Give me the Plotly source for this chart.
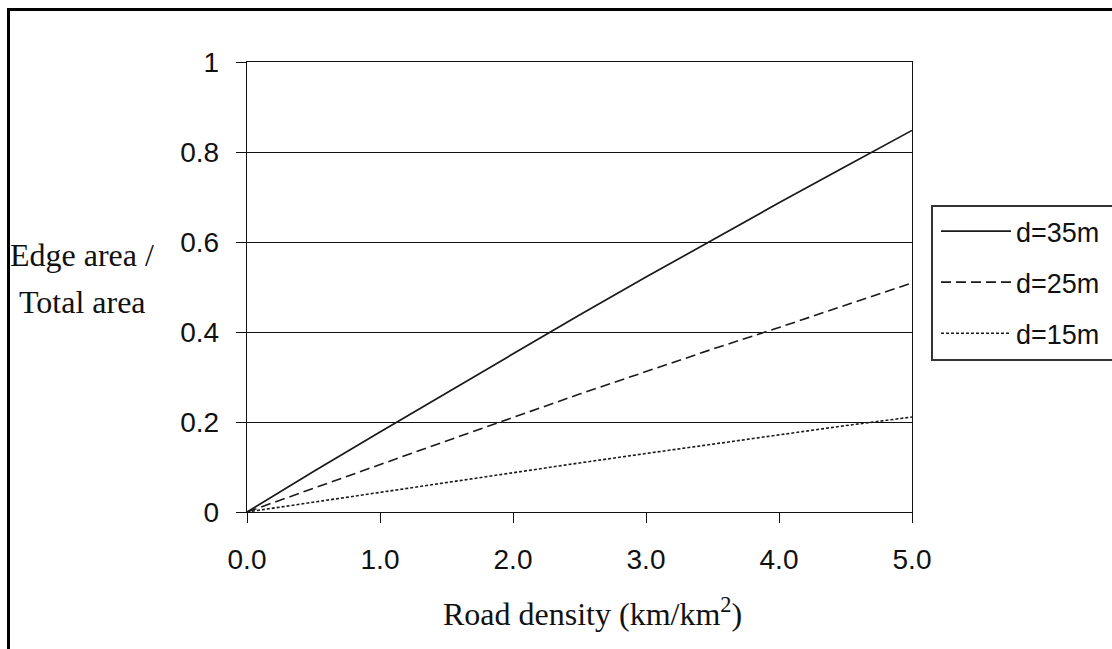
import plotly.graph_objects as go

# Data
road_density = [0.0, 0.5, 1.0, 1.5, 2.0, 2.5, 3.0, 3.5, 4.0, 4.5, 5.0]
edge_d35 = [0.0, 0.090, 0.178, 0.265, 0.352, 0.438, 0.522, 0.605, 0.687, 0.768, 0.848]
edge_d25 = [0.0, 0.053, 0.105, 0.158, 0.210, 0.262, 0.312, 0.362, 0.410, 0.460, 0.509]
edge_d15 = [0.0, 0.022, 0.044, 0.066, 0.088, 0.109, 0.130, 0.151, 0.172, 0.192, 0.211]
series_names = ["d=35m", "d=25m", "d=15m"]
x_ticks = [0.0, 1.0, 2.0, 3.0, 4.0, 5.0]
y_ticks = [0, 0.2, 0.4, 0.6, 0.8, 1.0]
y_title_lines = ["Edge area /", "Total area"]
x_title = "Road density (km/km<sup>2</sup>)"

W, H = 1112, 649
L, R, T, B = 247, 200, 62, 137
PW, PH = W - L - R, H - T - B

def px_x(p):
    return (p - L) / PW

def px_y(p):
    return (H - B - p) / PH

SANS = "Liberation Sans, Arial, sans-serif"
SERIF = "Liberation Serif, Times New Roman, serif"

fig = go.Figure()
styles = [("solid", 1.7), ("10px,5px", 1.6), ("3px,2px", 1.6)]
for name, ys, (dash, w), grp in zip(series_names, [edge_d35, edge_d25, edge_d15], styles, ["a", "b", "c"]):
    fig.add_trace(go.Scatter(
        x=road_density, y=ys, mode="lines", name=name, legendgroup=grp,
        line=dict(color="#1a1a1a", width=w, dash=dash),
    ))

fig.update_layout(
    width=W, height=H,
    margin=dict(l=L, r=R, t=T, b=B, autoexpand=False),
    paper_bgcolor="white", plot_bgcolor="white",
    font=dict(family=SANS, size=28, color="#111111"),
    showlegend=True,
    legend=dict(
        x=px_x(936), y=px_y(207), xanchor="left", yanchor="top",
        bgcolor="rgba(0,0,0,0)", borderwidth=0,
        font=dict(family=SANS, size=27, color="#111111"),
        tracegroupgap=13, itemwidth=70,
    ),
    xaxis=dict(
        range=[0, 5], tickvals=x_ticks, tickformat=".1f",
        showgrid=False, zeroline=False,
        showline=True, linecolor="#111111", linewidth=1.4, mirror=True,
        ticks="outside", ticklen=10, tickwidth=1.4, tickcolor="#111111",
        ticklabelstandoff=12,
        tickfont=dict(family=SANS, size=28, color="#111111"),
    ),
    yaxis=dict(
        range=[0, 1], tickvals=y_ticks,
        ticktext=["0", "0.2", "0.4", "0.6", "0.8", "1"],
        showgrid=True, gridcolor="#111111", gridwidth=1.3, zeroline=False,
        showline=True, linecolor="#111111", linewidth=1.4, mirror=True,
        ticks="outside", ticklen=10, tickwidth=1.4, tickcolor="#111111",
        ticklabelstandoff=11,
        tickfont=dict(family=SANS, size=28, color="#111111"),
    ),
)

# outer frame (right/bottom edges fall outside the canvas, as in the reference)
fig.add_shape(type="rect", xref="paper", yref="paper",
              x0=px_x(8.5), x1=px_x(1125), y0=px_y(660), y1=px_y(9.5),
              line=dict(color="black", width=3), fillcolor="rgba(0,0,0,0)", layer="above")
# legend box
fig.add_shape(type="rect", xref="paper", yref="paper",
              x0=px_x(932), x1=px_x(1125), y0=px_y(360), y1=px_y(206),
              line=dict(color="#333333", width=2), fillcolor="rgba(0,0,0,0)", layer="above")

for line_text, yc in zip(y_title_lines, [255, 302]):
    fig.add_annotation(text=line_text, xref="paper", yref="paper",
                       x=px_x(82), y=px_y(yc), xanchor="center", yanchor="middle",
                       showarrow=False, align="center",
                       font=dict(family=SERIF, size=32, color="#111111"))
fig.add_annotation(text=x_title, xref="paper", yref="paper",
                   x=px_x(592), y=px_y(612), xanchor="center", yanchor="middle",
                   showarrow=False,
                   font=dict(family=SERIF, size=32, color="#111111"))

fig.write_html("out.html", config={"displayModeBar": False},
               post_script="document.body.style.margin='0';document.body.style.overflow='hidden';")
